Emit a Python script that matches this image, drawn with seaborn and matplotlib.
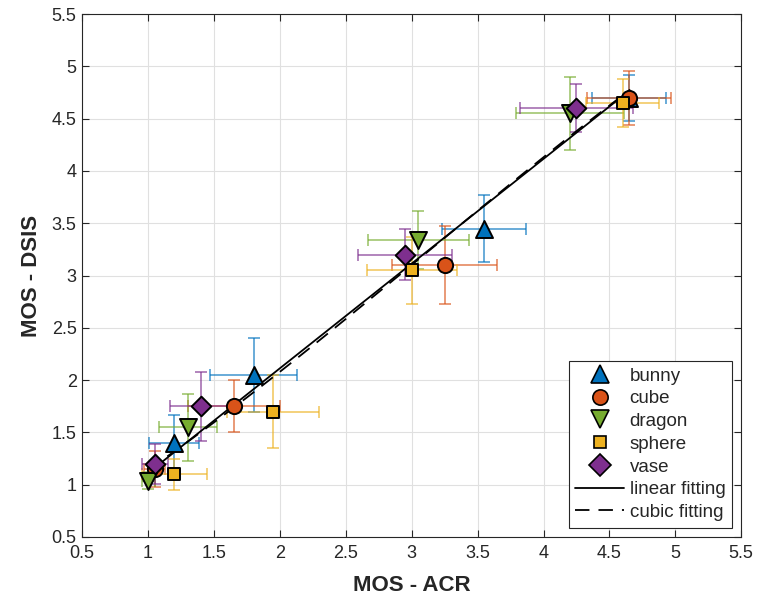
import numpy as np
import pandas as pd
import matplotlib
matplotlib.use("Agg")
import matplotlib.pyplot as plt
import seaborn as sns
from matplotlib.lines import Line2D

# data (MOS - ACR vs MOS - DSIS, with CI half-widths)
objects = ['bunny', 'cube', 'dragon', 'sphere', 'vase']

bunny_x = [1.2, 1.8, 3.55, 4.65]
bunny_y = [1.4, 2.05, 3.45, 4.7]
bunny_xerr = [0.19, 0.33, 0.32, 0.28]
bunny_yerr = [0.27, 0.35, 0.32, 0.22]

cube_x = [1.05, 1.65, 3.25, 4.65]
cube_y = [1.15, 1.75, 3.1, 4.7]
cube_xerr = [0.08, 0.35, 0.4, 0.32]
cube_yerr = [0.17, 0.25, 0.37, 0.26]

dragon_x = [1.0, 1.3, 3.05, 4.2]
dragon_y = [1.04, 1.55, 3.34, 4.55]
dragon_xerr = [0.05, 0.22, 0.385, 0.41]
dragon_yerr = [0.08, 0.32, 0.28, 0.35]

sphere_x = [1.2, 1.95, 3.0, 4.6]
sphere_y = [1.1, 1.7, 3.05, 4.65]
sphere_xerr = [0.25, 0.35, 0.34, 0.28]
sphere_yerr = [0.15, 0.35, 0.32, 0.23]

vase_x = [1.05, 1.4, 2.95, 4.25]
vase_y = [1.2, 1.75, 3.2, 4.6]
vase_xerr = [0.1, 0.23, 0.355, 0.43]
vase_yerr = [0.19, 0.33, 0.245, 0.23]

xs = [bunny_x, cube_x, dragon_x, sphere_x, vase_x]
ys = [bunny_y, cube_y, dragon_y, sphere_y, vase_y]
xerrs = [bunny_xerr, cube_xerr, dragon_xerr, sphere_xerr, vase_xerr]
yerrs = [bunny_yerr, cube_yerr, dragon_yerr, sphere_yerr, vase_yerr]

colors = ['#0072BD', '#D95319', '#77AC30', '#EDB120', '#7E2F8E']
markers = ['^', 'o', 'v', 's', 'D']
msizes = [150, 120, 150, 75, 100]

rows = []
for name, x, y, xe, ye in zip(objects, xs, ys, xerrs, yerrs):
    for i in range(len(x)):
        rows.append({'object': name, 'acr': x[i], 'dsis': y[i], 'xerr': xe[i], 'yerr': ye[i]})
df = pd.DataFrame(rows)

sns.set_style("whitegrid")
plt.rcParams['font.family'] = ['Liberation Sans', 'DejaVu Sans']

fig = plt.figure(figsize=(7.61, 6.01), dpi=100)
ax = fig.add_axes([0.108, 0.1065, 0.866, 0.870])

# error bars
for name, c in zip(objects, colors):
    d = df[df['object'] == name]
    ax.errorbar(d['acr'], d['dsis'], xerr=d['xerr'], yerr=d['yerr'], fmt='none',
                ecolor=c, elinewidth=1.1, capsize=4, capthick=1.1, alpha=0.75, zorder=2)

# fits
sns.regplot(data=df, x='acr', y='dsis', scatter=False, ci=None, order=1, ax=ax,
            line_kws={'color': 'black', 'lw': 1.3, 'zorder': 3})
sns.regplot(data=df, x='acr', y='dsis', scatter=False, ci=None, order=3, ax=ax,
            line_kws={'color': 'black', 'lw': 1.3, 'ls': (0, (8, 5)), 'zorder': 3})

# markers
for name, c, m, s in zip(objects, colors, markers, msizes):
    d = df[df['object'] == name]
    sns.scatterplot(data=d, x='acr', y='dsis', marker=m, color=c, s=s,
                    edgecolor='black', linewidth=1.4, ax=ax, zorder=4, legend=False)

ax.set_xlim(0.5, 5.5)
ax.set_ylim(0.5, 5.5)
ticks = np.arange(0.5, 5.51, 0.5)
ax.set_xticks(ticks)
ax.set_yticks(ticks)
ax.set_xticklabels([f'{t:g}' for t in ticks])
ax.set_yticklabels([f'{t:g}' for t in ticks])
ax.tick_params(direction='in', length=5, width=0.8, labelsize=13, colors='#262626',
               bottom=True, left=True, top=True, right=True)
ax.tick_params(axis='x', pad=6)
ax.tick_params(axis='y', pad=4)
ax.grid(True, color='#e0e0e0', lw=0.8)
for sp in ax.spines.values():
    sp.set_color('#262626')
    sp.set_linewidth(0.8)
ax.set_xlabel('MOS - ACR', fontsize=16, fontweight='bold', labelpad=9)
ax.set_ylabel('MOS - DSIS', fontsize=16, fontweight='bold', labelpad=7)

handles = [Line2D([], [], marker=m, color=c, ls='none', markeredgecolor='black',
                  markersize=ms, markeredgewidth=1.2)
           for c, m, ms in zip(colors, markers, [13, 11, 13, 9, 11])]
handles.append(Line2D([], [], color='black', lw=1.3))
handles.append(Line2D([], [], color='black', lw=1.3, ls=(0, (8, 5))))
labels = objects + ['linear fitting', 'cubic fitting']
leg = ax.legend(handles, labels, loc='lower right', fontsize=13.5, frameon=True,
                fancybox=False, edgecolor='#262626', framealpha=1,
                handlelength=2.6, labelspacing=0.3, borderaxespad=0.5, handletextpad=0.3,
                borderpad=0.35)
leg.get_frame().set_linewidth(0.8)

fig.savefig('out.png', dpi=100)
